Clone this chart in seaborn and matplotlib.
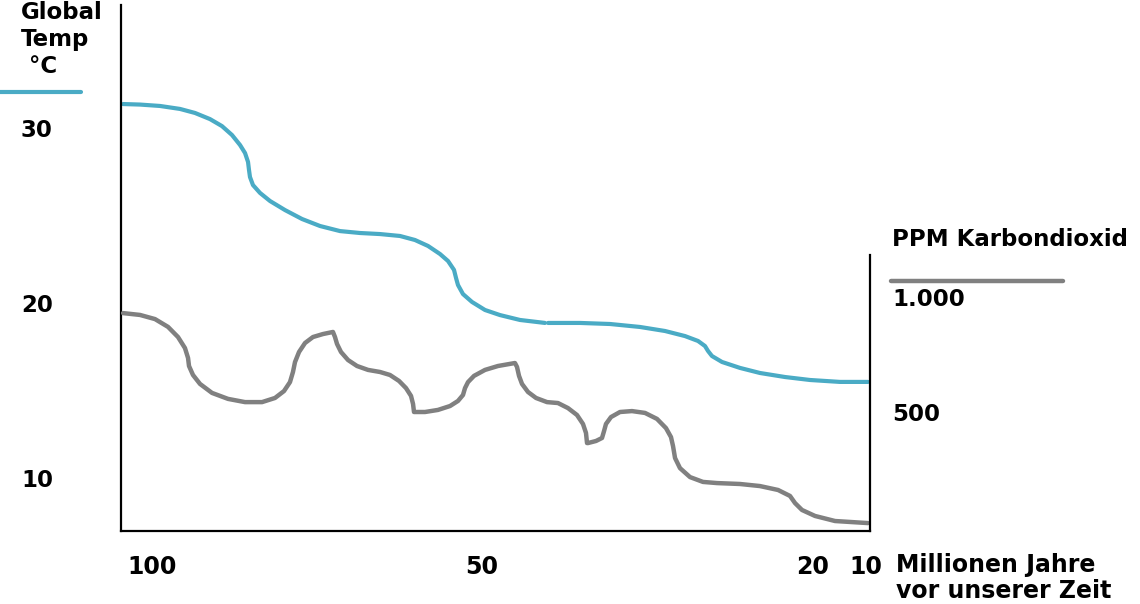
import matplotlib
matplotlib.use("Agg")
import matplotlib.pyplot as plt
from matplotlib.lines import Line2D
import pandas as pd
import seaborn as sns

# x = position along the time axis (0 = left edge, 100 = right edge)
temp_x = [0.27, 2.54, 5.21, 7.88, 9.88, 11.88, 13.48, 14.82, 15.89, 16.56, 16.96,
          17.09, 17.22, 17.62, 18.56, 19.89, 21.90, 24.17, 26.57, 29.24, 31.91,
          34.58, 37.25, 39.25, 40.99, 42.59, 43.66, 44.46, 44.73, 44.99, 45.66,
          46.86, 48.60, 50.60, 53.27, 56.61,
          57.01, 61.28, 65.29, 69.29, 72.63, 75.30, 77.04, 77.97, 78.37, 78.90,
          80.24, 82.64, 85.31, 88.65, 91.99, 95.99, 99.73]
temp_c = [31.37, 31.34, 31.26, 31.09, 30.86, 30.51, 30.11, 29.60, 29.03, 28.57, 28.06,
          27.60, 27.20, 26.74, 26.29, 25.83, 25.31, 24.80, 24.40, 24.11, 24.00,
          23.94, 23.83, 23.60, 23.26, 22.80, 22.40, 21.89, 21.43, 21.03, 20.51,
          20.06, 19.60, 19.31, 19.03, 18.86,
          18.86, 18.86, 18.80, 18.63, 18.40, 18.11, 17.83, 17.54, 17.26, 16.97,
          16.63, 16.29, 16.00, 15.77, 15.60, 15.49, 15.49]
temp_seg = [0] * 36 + [1] * 17

co2_x = [0.27, 2.54, 4.54, 6.28, 7.61, 8.54, 8.95, 9.08, 9.61, 10.55, 12.15, 14.29,
         16.56, 18.83, 20.56, 21.76, 22.56, 22.96, 23.23, 23.77, 24.57, 25.63,
         26.97, 28.30,
         28.57, 28.84, 29.37, 30.31, 31.51, 32.98, 34.58, 35.91, 37.12, 38.05,
         38.72, 38.99, 39.12,
         40.59, 42.32, 43.93, 44.99, 45.66, 45.93, 46.33, 47.13, 48.60, 50.33, 52.60,
         52.87, 53.14, 53.54, 54.34, 55.41, 56.88, 58.34, 59.68, 60.88, 61.68,
         62.08, 62.22,
         62.35, 63.42, 64.22, 64.49, 64.75, 65.42, 66.62, 68.22, 69.96, 71.56,
         72.76, 73.43, 73.70, 73.97, 74.63, 75.97, 77.70, 79.57, 82.64, 85.31,
         87.72, 89.32, 89.99, 90.92, 92.66, 95.33, 99.73]
co2_ppm = [930, 922, 904, 870, 826, 778, 735, 700, 661, 622, 583, 557,
           543, 543, 561, 591, 630, 674, 717, 761, 800, 826,
           839, 848,
           826, 796, 761, 726, 700, 683, 674, 661, 635, 604,
           570, 535, 500,
           500, 509, 526, 548, 574, 604, 630, 657, 683, 700, 713,
           696, 657, 622, 587, 561, 543, 539, 517, 487, 448,
           409, 365,
           365, 374, 387, 417, 448, 478, 500, 504, 496, 470,
           430, 391, 352, 300, 256, 217, 196, 191, 187, 178,
           161, 135, 104, 74, 48, 26, 17]

temp_ticks = [10, 20, 30]
co2_ticks = [500, 1000]
co2_labels = ["500", "1.000"]
time_pos = [4.1, 48.1, 92.3, 99.5]
time_labels = ["100", "50", "20", "10"]

blue = "#4aabc5"
grey = "#808080"

sns.set_style("white")
plt.rcParams["font.family"] = ["DejaVu Sans"]
plt.rcParams["font.weight"] = "bold"
plt.rcParams["text.color"] = "black"
plt.rcParams["xtick.color"] = "black"
plt.rcParams["ytick.color"] = "black"

W, H = 1140, 604
fig = plt.figure(figsize=(W / 100, H / 100), dpi=100)
ax = fig.add_axes([121 / W, 73 / H, 749 / W, 526 / H])

temp_df = pd.DataFrame({"x": temp_x, "t": temp_c, "seg": temp_seg})
sns.lineplot(data=temp_df, x="x", y="t", units="seg", estimator=None, sort=False,
             color=blue, linewidth=3.0, ax=ax)
ax.set_xlim(0, 100)
ax.set_ylim(6.97, 37.03)

ax2 = ax.twinx()
co2_df = pd.DataFrame({"x": co2_x, "ppm": co2_ppm})
sns.lineplot(data=co2_df, x="x", y="ppm", estimator=None, sort=False,
             color=grey, linewidth=3.2, ax=ax2)
ax2.set_ylim(-17.4, 2269.6)

for a in (ax, ax2):
    for s in a.spines.values():
        s.set_visible(False)
    a.set_xlabel("")
    a.set_ylabel("")
    a.grid(False)

for s in ("left", "bottom"):
    ax.spines[s].set_visible(True)
    ax.spines[s].set_color("black")
    ax.spines[s].set_linewidth(1.6)
ax2.spines["right"].set_visible(True)
ax2.spines["right"].set_color("black")
ax2.spines["right"].set_linewidth(1.6)
ax2.spines["right"].set_bounds(-17.4, 1182)

ax.set_yticks(temp_ticks, labels=[str(t) for t in temp_ticks])
ax.tick_params(axis="y", length=0, pad=72, labelsize=16.5, labelcolor="black")
ax.set_xticks(time_pos, labels=time_labels)
ax.tick_params(axis="x", length=0, pad=17, labelsize=17, labelcolor="black")
ax2.set_yticks(co2_ticks, labels=co2_labels)
ax2.tick_params(axis="y", length=0, pad=16, labelsize=16.5, labelcolor="black")
for lab in ax.get_yticklabels() + ax.get_xticklabels() + ax2.get_yticklabels():
    lab.set_fontweight("bold")
for lab in ax.get_yticklabels():
    lab.set_horizontalalignment("left")

fig.text(21 / W, 1 - 1 / H, "Global\nTemp\n °C", ha="left", va="top",
         fontsize=16.5, fontweight="bold", linespacing=1.22, color="black")
fig.text(892 / W, 1 - 239 / H, "PPM Karbondioxid", ha="left", va="center",
         fontsize=16.5, fontweight="bold", color="black")
fig.text(896 / W, 1 - 553 / H, "Millionen Jahre\nvor unserer Zeit", ha="left", va="top",
         fontsize=17, fontweight="bold", linespacing=1.1, color="black")

fig.add_artist(Line2D([0, 81 / W], [1 - 92 / H] * 2, color=blue, linewidth=3.0))
fig.add_artist(Line2D([891 / W, 1063 / W], [1 - 281 / H] * 2, color=grey, linewidth=3.2))

fig.savefig("out.png", dpi=100)
